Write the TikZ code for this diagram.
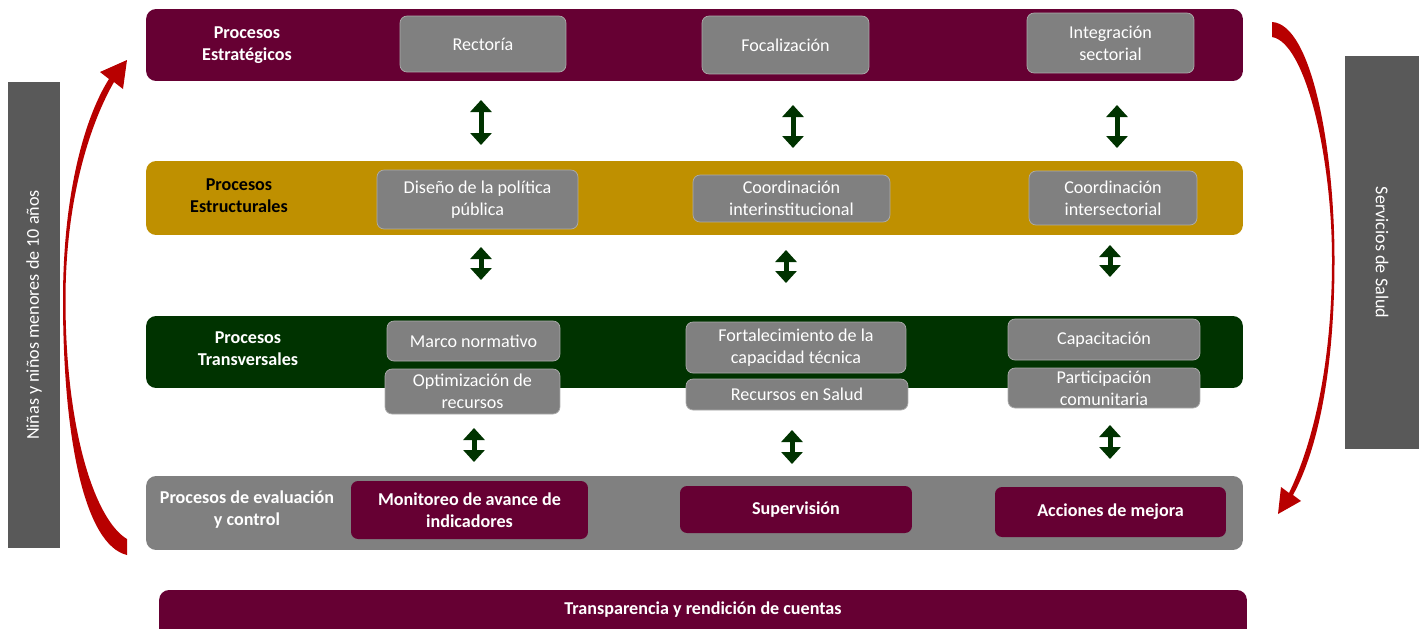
\documentclass[tikz,border=0pt]{standalone}
\usepackage{fontspec}
\setmainfont{Carlito}
\usetikzlibrary{arrows.meta}
\definecolor{vino}{HTML}{660033}
\definecolor{ocre}{HTML}{BF9000}
\definecolor{verde}{HTML}{003300}
\definecolor{gris}{HTML}{808080}
\definecolor{grisosc}{HTML}{595959}
\definecolor{rojo}{HTML}{B80000}

\begin{document}
\begin{tikzpicture}[x=0.02cm,y=-0.02cm,
    font=\fontsize{10.3}{12.5}\selectfont,
    banda/.style={rounded corners=0.2cm,minimum width=21.94cm,inner sep=0pt},
    titulo/.style={font=\fontsize{10.3}{12.5}\selectfont\bfseries,align=center},
    caja/.style={fill=gris,draw=white!35!gris,line width=0.4pt,rounded corners=0.14cm,text=white,align=center,inner sep=0pt},
    cajavino/.style={fill=vino,rounded corners=0.14cm,text=white,align=center,inner sep=0pt,font=\fontsize{10.3}{12.5}\selectfont\bfseries},
    flecha/.style={verde,line width=0.1cm,{Triangle[width=0.42cm,length=0.24cm]}-{Triangle[width=0.42cm,length=0.24cm]}},
    lateral/.style={fill=grisosc,text=white,inner sep=0pt}]
    \useasboundingbox (0,0) rectangle (1424,629);

    % bandas
    \node[banda,fill=vino,minimum height=1.44cm] (estrat) at (694.5,45) {};
    \node[banda,fill=ocre,minimum height=1.48cm] (estruc) at (694.5,198) {};
    \node[banda,fill=verde,minimum height=1.44cm] (transv) at (694.5,352) {};
    \node[banda,fill=gris,minimum height=1.48cm] (evalua) at (694.5,513) {};
    \node[banda,fill=vino,minimum width=21.76cm,minimum height=1.0cm,text height=0.25cm,text depth=0.26cm,text=white,font=\fontsize{10.3}{12.5}\selectfont\bfseries] (transp) at (703,615) {Transparencia y rendición de cuentas};

    \node[titulo,text=white] (testrat) at (247,45) {Procesos\\Estratégicos};
    \node[titulo,text=black] (testruc) at (239,196) {Procesos\\Estructurales};
    \node[titulo,text=white] (ttransv) at (248,349) {Procesos\\Transversales};
    \node[titulo,text=white] (tevalua) at (247,510) {Procesos de evaluación\\y control};

    % cajas grises
    \node[caja,minimum width=3.32cm,minimum height=1.12cm] (rector) at (483,44) {Rectoría};
    \node[caja,minimum width=3.34cm,minimum height=1.16cm] (focal) at (785.5,45) {Focalización};
    \node[caja,minimum width=3.34cm,minimum height=1.2cm] (integ) at (1110.5,43) {Integración\\sectorial};
    \node[caja,minimum width=4.02cm,minimum height=1.18cm] (diseno) at (477.5,199.5) {Diseño de la política\\pública};
    \node[caja,minimum width=3.94cm,minimum height=0.94cm] (coorinst) at (791.5,198.5) {Coordinación\\interinstitucional};
    \node[caja,minimum width=3.36cm,minimum height=1.08cm] (coorsec) at (1113,198) {Coordinación\\intersectorial};
    \node[caja,minimum width=3.46cm,minimum height=0.8cm] (marco) at (473.5,341) {Marco normativo};
    \node[caja,minimum width=3.5cm,minimum height=0.9cm] (optim) at (472.5,391.5) {Optimización de\\recursos};
    \node[caja,minimum width=4.4cm,minimum height=1.02cm] (fortal) at (796,347.5) {Fortalecimiento de la\\capacidad técnica};
    \node[caja,minimum width=4.44cm,minimum height=0.62cm] (recursos) at (797,394.5) {Recursos en Salud};
    \node[caja,minimum width=3.84cm,minimum height=0.82cm] (capac) at (1104,339.5) {Capacitación};
    \node[caja,minimum width=3.84cm,minimum height=0.8cm] (partic) at (1104,388) {Participación\\comunitaria};

    % cajas vino
    \node[cajavino,minimum width=4.74cm,minimum height=1.16cm] (monit) at (469.5,510) {Monitoreo de avance de\\indicadores};
    \node[cajavino,minimum width=4.64cm,minimum height=0.94cm] (superv) at (796,509.5) {Supervisión};
    \node[cajavino,minimum width=4.62cm,minimum height=1.0cm] (acciones) at (1110.5,512) {Acciones de mejora};

    % barras laterales
    \node[lateral,rotate=90,minimum width=9.32cm,minimum height=1.04cm] (ninos) at (34,315) {Niñas y niños menores de 10 años};
    \node[lateral,rotate=-90,minimum width=7.86cm,minimum height=1.48cm] (servicios) at (1382,252.5) {Servicios de Salud};

    % flechas dobles
    \foreach \n/\x/\ya/\yb in {fa/481/100/145, fb/793/105/148, fc/1117/105/148,
        ga/481/247/280, gb/786/250/283, gc/1110/245/277,
        ha/474/428/462, hb/792/430/464, hc/1110/425/459}{
        \coordinate (\n-top) at (\x,\ya);
        \coordinate (\n-bot) at (\x,\yb);
        \draw[flecha] (\n-top) -- (\n-bot);
    }

    % flechas curvas
    \fill[rojo] (127,555) .. controls (85,545) and (63,440) .. (63,300)
        .. controls (63,190) and (86,115) .. (109,79)
        -- (100,72) -- (127,60) -- (123,89) -- (114,82)
        .. controls (92,120) and (65.5,195) .. (65.5,300)
        .. controls (65.5,430) and (95,520) .. (127,539) -- cycle;
    \fill[rojo] (1272,22) .. controls (1312,24) and (1334.5,150) .. (1334.5,260)
        .. controls (1334.5,380) and (1315,455) .. (1293,495)
        -- (1301,501) -- (1278,514) -- (1281,487) -- (1289,493)
        .. controls (1309,452) and (1332,375) .. (1332,260)
        .. controls (1332,155) and (1305,42) .. (1272,37) -- cycle;
\end{tikzpicture}
\end{document}
